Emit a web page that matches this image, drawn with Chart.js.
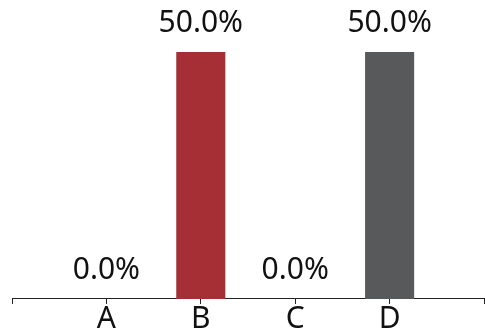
<!DOCTYPE html>
<html>
<head>
<meta charset="utf-8">
<script src="https://cdn.jsdelivr.net/npm/chart.js@4"></script>
<style>
  html, body { margin: 0; padding: 0; background: #fff; }
  #wrap { width: 485px; height: 334px; }
</style>
</head>
<body>
<div id="wrap"><canvas id="c"></canvas></div>
<script>
const categories = ['A', 'B', 'C', 'D'];
const shares = [0, 50, 0, 50];
const barColours = ['#a52f35', '#a52f35', '#58595b', '#58595b'];

// empty slots at both ends so the axis runs a full step past A and D
const labels = [''].concat(categories, ['']);
const values = [null].concat(shares, [null]);
const colours = ['#fff'].concat(barColours, ['#fff']);

const valueLabels = {
  id: 'valueLabels',
  afterDatasetsDraw(chart) {
    const ctx = chart.ctx;
    const meta = chart.getDatasetMeta(0);
    ctx.save();
    ctx.font = '30px "Noto Sans"';
    ctx.fillStyle = '#111';
    ctx.textAlign = 'center';
    ctx.textBaseline = 'middle';
    meta.data.forEach((bar, i) => {
      const v = values[i];
      if (v === null) return;
      ctx.fillText(v.toFixed(1) + '%', bar.x, bar.y - 29);
    });
    ctx.restore();
  }
};

new Chart(document.getElementById('c'), {
  type: 'bar',
  data: {
    labels: labels,
    datasets: [{
      data: values,
      backgroundColor: colours,
      borderWidth: 0,
      categoryPercentage: 1,
      barPercentage: 0.52
    }]
  },
  options: {
    responsive: true,
    maintainAspectRatio: false,
    animation: false,
    layout: { padding: { top: 52, left: 12, right: 0, bottom: 0 } },
    plugins: { legend: { display: false }, tooltip: { enabled: false } },
    scales: {
      x: {
        offset: false,
        grid: { drawOnChartArea: false, drawTicks: true, tickLength: 5, color: '#222', offset: false },
        border: { display: true, color: '#222', width: 1 },
        ticks: {
          color: '#111',
          padding: 1,
          autoSkip: false,
          maxRotation: 0,
          font: { family: 'Noto Sans', size: 30, lineHeight: 0.934 }
        }
      },
      y: {
        display: false,
        min: 0,
        max: 50
      }
    }
  },
  plugins: [valueLabels]
});
</script>
</body>
</html>
